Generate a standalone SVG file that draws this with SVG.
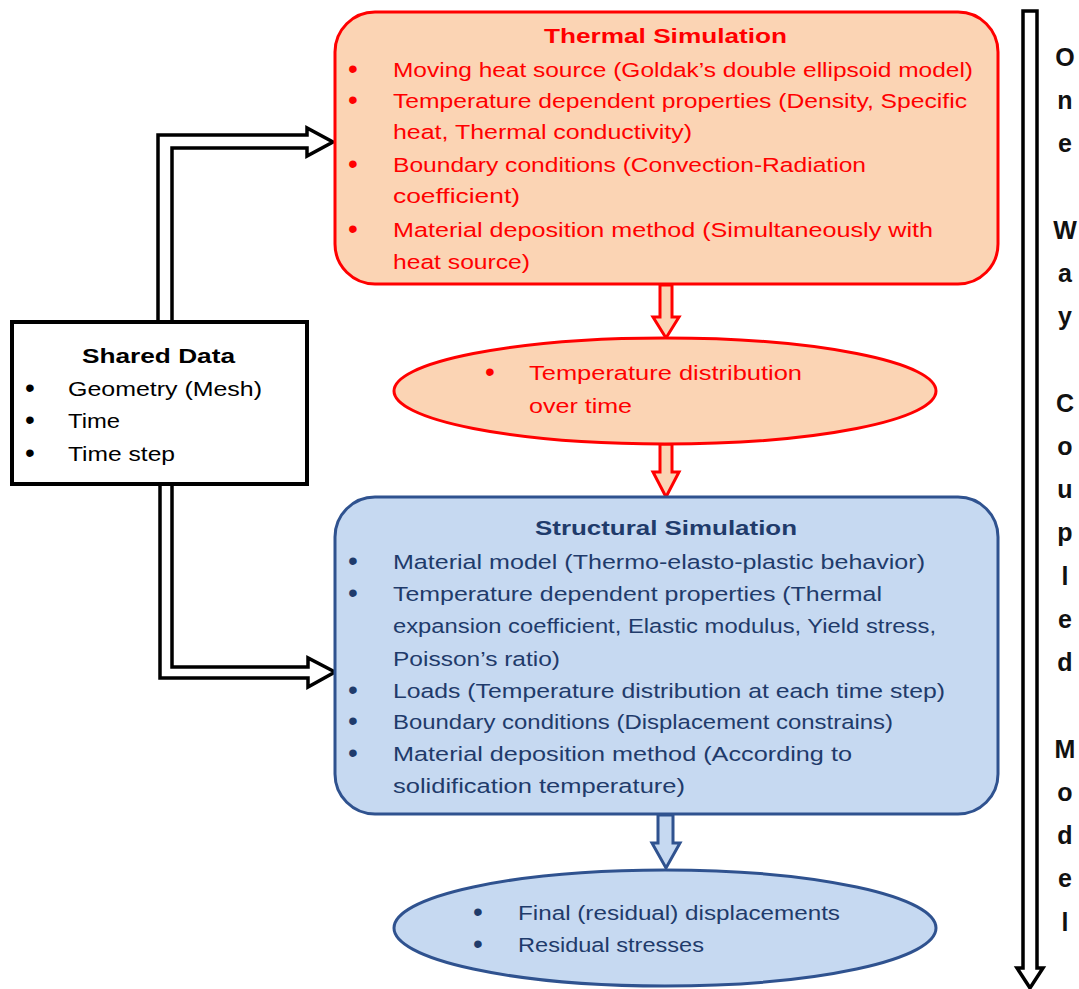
<svg xmlns="http://www.w3.org/2000/svg" width="1079" height="989" viewBox="0 0 1079 989">
<style>
text{font-family:"Liberation Sans",Arial,sans-serif;font-size:20.5px}
.r{fill:#FF0000}
.b{fill:#1F3B6B}
.k{fill:#000}
.t{font-weight:bold}
.d{font-size:28px}
.v{font-weight:bold;font-size:25px;fill:#111;text-anchor:middle}
.blk{fill:#fff;stroke:#000;stroke-width:3.5;stroke-linejoin:miter}
.rar{fill:#FBD4B4;stroke:#FF0000;stroke-width:3}
.bar{fill:#C6D9F1;stroke:#2F528F;stroke-width:3}
</style>
<rect width="1079" height="989" fill="#fff"/>
<g id="connectors">
<path class="blk" d="M158,322 V135 H307 V128 L333,142 L307,156 V148 H172 V322 Z"/>
<path class="blk" d="M160,484 V678 H308 V687 L335,672 L308,658 V667 H172 V484 Z"/>
<path class="rar" d="M660,285 V317 H653 L666,338 L679,317 H672 V285 Z"/>
<path class="rar" d="M660,444 V472 H653 L666,497 L679,472 H672 V444 Z"/>
<path class="bar" d="M658,815 V843 H652 L666,868 L680,843 H673 V815 Z"/>
<path class="blk" d="M1023,11 V968 H1017 L1030,988 L1043,968 H1037 V11 Z"/>
</g>
<g id="shared">
<rect x="12" y="322" width="295" height="162" fill="#fff" stroke="#000" stroke-width="4"/>
<text class="k t" x="82" y="363" textLength="153" lengthAdjust="spacingAndGlyphs">Shared  Data</text>
<text class="k d" x="25" y="397">•</text><text class="k" x="68" y="396" textLength="194" lengthAdjust="spacingAndGlyphs">Geometry (Mesh)</text>
<text class="k d" x="25" y="429">•</text><text class="k" x="68" y="428" textLength="52" lengthAdjust="spacingAndGlyphs">Time</text>
<text class="k d" x="25" y="462">•</text><text class="k" x="68" y="461" textLength="107" lengthAdjust="spacingAndGlyphs">Time step</text>
</g>
<g id="thermal">
<rect x="335" y="12" width="663" height="272" rx="40" ry="40" fill="#FBD4B4" stroke="#FF0000" stroke-width="3"/>
<text class="r t" x="544" y="43" textLength="243" lengthAdjust="spacingAndGlyphs">Thermal Simulation</text>
<text class="r d" x="348" y="78">•</text><text class="r" x="393" y="77" textLength="580" lengthAdjust="spacingAndGlyphs">Moving heat source (Goldak’s double ellipsoid model)</text>
<text class="r d" x="348" y="109">•</text><text class="r" x="393" y="108" textLength="574" lengthAdjust="spacingAndGlyphs">Temperature dependent properties (Density, Specific</text>
<text class="r" x="393" y="139" textLength="299" lengthAdjust="spacingAndGlyphs">heat, Thermal conductivity)</text>
<text class="r d" x="348" y="173">•</text><text class="r" x="393" y="172" textLength="473" lengthAdjust="spacingAndGlyphs">Boundary conditions (Convection-Radiation</text>
<text class="r" x="393" y="203" textLength="127" lengthAdjust="spacingAndGlyphs">coefficient)</text>
<text class="r d" x="348" y="238">•</text><text class="r" x="393" y="237" textLength="540" lengthAdjust="spacingAndGlyphs">Material deposition method (Simultaneously with</text>
<text class="r" x="393" y="269" textLength="137" lengthAdjust="spacingAndGlyphs">heat source)</text>
</g>
<g id="tempdist">
<ellipse cx="665" cy="391" rx="271" ry="53" fill="#FBD4B4" stroke="#FF0000" stroke-width="3"/>
<text class="r d" x="485" y="381">•</text><text class="r" x="529" y="380" textLength="273" lengthAdjust="spacingAndGlyphs">Temperature distribution</text>
<text class="r" x="529" y="413" textLength="103" lengthAdjust="spacingAndGlyphs">over time</text>
</g>
<g id="structural">
<rect x="335" y="497" width="663" height="317" rx="40" ry="40" fill="#C6D9F1" stroke="#2F528F" stroke-width="3"/>
<text class="b t" x="535" y="535" textLength="262" lengthAdjust="spacingAndGlyphs">Structural  Simulation</text>
<text class="b d" x="348" y="570">•</text><text class="b" x="393" y="569" textLength="532" lengthAdjust="spacingAndGlyphs">Material model (Thermo-elasto-plastic behavior)</text>
<text class="b d" x="348" y="602">•</text><text class="b" x="393" y="601" textLength="489" lengthAdjust="spacingAndGlyphs">Temperature dependent properties (Thermal</text>
<text class="b" x="393" y="633" textLength="543" lengthAdjust="spacingAndGlyphs">expansion coefficient, Elastic modulus, Yield stress,</text>
<text class="b" x="393" y="666" textLength="167" lengthAdjust="spacingAndGlyphs">Poisson’s ratio)</text>
<text class="b d" x="348" y="699">•</text><text class="b" x="393" y="698" textLength="552" lengthAdjust="spacingAndGlyphs">Loads (Temperature distribution at each time step)</text>
<text class="b d" x="348" y="730">•</text><text class="b" x="393" y="729" textLength="500" lengthAdjust="spacingAndGlyphs">Boundary conditions (Displacement constrains)</text>
<text class="b d" x="348" y="762">•</text><text class="b" x="393" y="761" textLength="459" lengthAdjust="spacingAndGlyphs">Material deposition method (According to</text>
<text class="b" x="393" y="793" textLength="292" lengthAdjust="spacingAndGlyphs">solidification temperature)</text>
</g>
<g id="results">
<ellipse cx="665" cy="928" rx="271" ry="58" fill="#C6D9F1" stroke="#2F528F" stroke-width="3"/>
<text class="b d" x="473" y="921">•</text><text class="b" x="518" y="920" textLength="322" lengthAdjust="spacingAndGlyphs">Final (residual) displacements</text>
<text class="b d" x="473" y="953">•</text><text class="b" x="518" y="952" textLength="186" lengthAdjust="spacingAndGlyphs">Residual stresses</text>
</g>
<g id="oneway">
<text class="v" x="1065" y="66">O</text>
<text class="v" x="1065" y="109">n</text>
<text class="v" x="1065" y="152">e</text>
<text class="v" x="1065" y="239">W</text>
<text class="v" x="1065" y="282">a</text>
<text class="v" x="1065" y="325">y</text>
<text class="v" x="1065" y="412">C</text>
<text class="v" x="1065" y="455">o</text>
<text class="v" x="1065" y="498">u</text>
<text class="v" x="1065" y="541">p</text>
<text class="v" x="1065" y="585">l</text>
<text class="v" x="1065" y="628">e</text>
<text class="v" x="1065" y="671">d</text>
<text class="v" x="1065" y="758">M</text>
<text class="v" x="1065" y="801">o</text>
<text class="v" x="1065" y="844">d</text>
<text class="v" x="1065" y="887">e</text>
<text class="v" x="1065" y="931">l</text>
</g>
</svg>
